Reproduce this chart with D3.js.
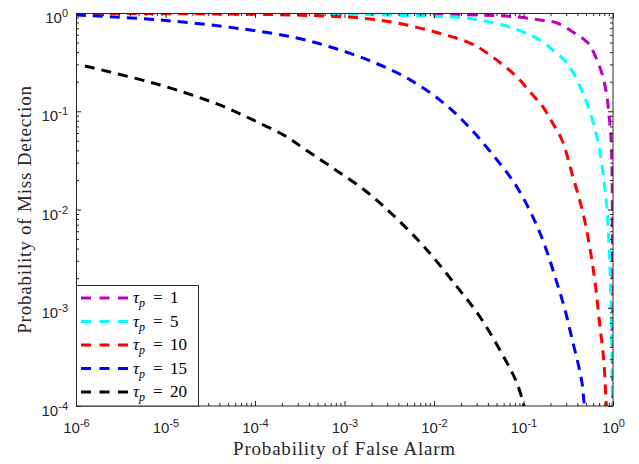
<!DOCTYPE html>
<html>
<head>
<meta charset="utf-8">
<script src="https://cdn.jsdelivr.net/npm/d3@7"></script>
<style>
  body { margin: 0; background: #fff; }
  .axis path { display: none; }
  .axis line { stroke: #262626; }
  .axis text { font-family: "Liberation Sans", Arial, sans-serif; font-size: 15px; fill: #262626; }
  .title { font-family: "Liberation Serif", "DejaVu Serif", serif; font-size: 19px; letter-spacing: 0.8px; fill: #262626; }
  .legend text { font-family: "Liberation Serif", "DejaVu Serif", serif; font-size: 17px; fill: #000; }
</style>
</head>
<body>
<svg id="chart" width="639" height="464"></svg>
<script>
// ---- data ----
const pfaTicks = [1e-6, 1e-5, 1e-4, 1e-3, 1e-2, 1e-1, 1];
const pmdTicks = [1e-4, 1e-3, 1e-2, 1e-1, 1];
const tauValues = [1, 5, 10, 15, 20];

// [Pfa, Pmd] pairs
const curveTau1 = [[1e-6, 1.0], [1e-3, 0.998], [0.0327, 0.954], [0.0845, 0.911], [0.1528, 0.849],
  [0.2366, 0.791], [0.357, 0.641], [0.526, 0.495], [0.662, 0.332], [0.773, 0.223], [0.857, 0.1396],
  [0.902, 0.0916], [0.95, 0.0547], [0.975, 0.0235], [0.987, 3.87e-3], [0.992, 9e-5]];
const curveTau5 = [[1e-6, 0.999], [3e-4, 0.99], [3.48e-3, 0.954], [8.36e-3, 0.932], [0.0234, 0.889],
  [0.059, 0.755], [0.0986, 0.641], [0.1528, 0.531], [0.225, 0.401], [0.306, 0.31], [0.486, 0.1364],
  [0.662, 0.0547], [0.773, 0.0235], [0.857, 9.9e-3], [0.925, 2.6e-3], [0.95, 1.02e-3], [0.975, 2.74e-4],
  [0.987, 9e-5]];
const curveTau10 = [[1e-6, 0.995], [2.4e-5, 0.98], [3.2e-4, 0.95], [1.49e-3, 0.889], [3.86e-3, 0.791],
  [0.01026, 0.641], [0.0252, 0.495], [0.0391, 0.392], [0.059, 0.296], [0.0845, 0.223], [0.1183, 0.157],
  [0.165, 0.1105], [0.208, 0.0777], [0.269, 0.051], [0.357, 0.0214], [0.462, 9.2e-3], [0.597, 2.6e-3],
  [0.716, 6.4e-4], [0.793, 2.74e-4], [0.835, 1.15e-4], [0.857, 9e-5]];
const curveTau15 = [[1e-6, 0.954], [8.7e-6, 0.849], [7.35e-5, 0.687], [2.94e-4, 0.557], [8.24e-4, 0.43],
  [2.08e-3, 0.317], [4.99e-3, 0.218], [0.01167, 0.13], [0.0234, 0.0724], [0.0456, 0.0359], [0.0845, 0.0169],
  [0.1528, 5.77e-3], [0.2366, 1.79e-3], [0.291, 9.5e-4], [0.357, 4.4e-4], [0.406, 2.74e-4], [0.451, 1.71e-4],
  [0.474, 1.1e-4], [0.487, 9e-5]];
const curveTau20 = [[1.26e-6, 0.289], [8.7e-6, 0.185], [3.76e-5, 0.1186], [9.5e-5, 0.0815], [2.28e-4, 0.0547],
  [3.43e-4, 0.0423], [7.43e-4, 0.0264], [1.78e-3, 0.01507], [3.48e-3, 8.79e-3], [6.62e-3, 4.89e-3],
  [9.75e-3, 3.29e-3], [0.0181, 1.63e-3], [0.0327, 8.05e-4], [0.0655, 2.74e-4], [0.0845, 1.71e-4],
  [0.0986, 1.1e-4], [0.104, 9e-5]];

const curves = [curveTau1, curveTau5, curveTau10, curveTau15, curveTau20];
const colors = ["#bf00bf", "#00ffff", "#ff0000", "#0000ff", "#000000"];

// ---- layout ----
const margin = { top: 13, right: 26, bottom: 58, left: 76 };
const width = 639 - margin.left - margin.right;
const height = 464 - margin.top - margin.bottom;

const svg = d3.select("#chart");
const g = svg.append("g").attr("transform", `translate(${margin.left},${margin.top})`);

const x = d3.scaleLog().domain([1e-6, 1]).range([0, width]);
const y = d3.scaleLog().domain([1e-4, 1]).range([height, 0]);

// minor ticks 2..9 in every decade
const minorOf = ticks => ticks.slice(0, -1).flatMap(d => d3.range(2, 10).map(k => k * d));

g.append("rect")
  .attr("width", width).attr("height", height)
  .attr("fill", "#fff");

g.append("clipPath").attr("id", "plotClip")
  .append("rect").attr("width", width).attr("height", height);

const line = d3.line()
  .x(d => x(d[0]))
  .y(d => y(d[1]))
  .curve(d3.curveCatmullRom.alpha(0.5));

g.append("g").attr("clip-path", "url(#plotClip)")
  .selectAll("path")
  .data(curves)
  .enter().append("path")
  .attr("d", line)
  .attr("fill", "none")
  .attr("stroke", (d, i) => colors[i])
  .attr("stroke-width", 3)
  .attr("stroke-dasharray", "10,7");

// tick labels as 10^n
function powLabel(d) {
  const t = d3.select(this);
  t.text(null);
  t.append("tspan").text("10");
  t.append("tspan").attr("dy", -6).attr("font-size", "11px").text(Math.round(Math.log10(d)));
}

// axes (ticks point inward on all four sides)
const xAxis = g.append("g").attr("class", "axis").attr("transform", `translate(0,${height})`)
  .call(d3.axisBottom(x).tickValues(pfaTicks).tickSize(-5).tickSizeOuter(0));
xAxis.selectAll(".tick text").attr("dy", null).attr("y", 27).each(powLabel);
g.append("g").attr("class", "axis").attr("transform", `translate(0,${height})`)
  .call(d3.axisBottom(x).tickValues(minorOf(pfaTicks)).tickSize(-3).tickFormat(""));

g.append("g").attr("class", "axis")
  .call(d3.axisTop(x).tickValues(pfaTicks).tickSize(-5).tickFormat(""));
g.append("g").attr("class", "axis")
  .call(d3.axisTop(x).tickValues(minorOf(pfaTicks)).tickSize(-3).tickFormat(""));

const yAxis = g.append("g").attr("class", "axis")
  .call(d3.axisLeft(y).tickValues(pmdTicks).tickSize(-5).tickPadding(8).tickSizeOuter(0));
yAxis.selectAll(".tick text").attr("dy", null).attr("y", 9.5).each(powLabel);
g.append("g").attr("class", "axis")
  .call(d3.axisLeft(y).tickValues(minorOf(pmdTicks)).tickSize(-3).tickFormat(""));

g.append("g").attr("class", "axis").attr("transform", `translate(${width},0)`)
  .call(d3.axisRight(y).tickValues(pmdTicks).tickSize(-5).tickFormat(""));
g.append("g").attr("class", "axis").attr("transform", `translate(${width},0)`)
  .call(d3.axisRight(y).tickValues(minorOf(pmdTicks)).tickSize(-3).tickFormat(""));

// frame
g.append("rect")
  .attr("x", 0.5).attr("y", 0.5)
  .attr("width", width - 0.5).attr("height", height - 0.5)
  .attr("fill", "none").attr("stroke", "#262626").attr("stroke-width", 1);

// axis titles
svg.append("text")
  .attr("class", "title")
  .attr("x", margin.left + width / 2).attr("y", 455)
  .attr("text-anchor", "middle")
  .text("Probability of False Alarm");

svg.append("text")
  .attr("class", "title")
  .attr("transform", `translate(31,${margin.top + height / 2}) rotate(-90)`)
  .attr("text-anchor", "middle")
  .text("Probability of Miss Detection");

// legend
const legend = g.append("g").attr("class", "legend").attr("transform", `translate(0,${height - 121})`);
legend.append("rect")
  .attr("x", 0.5).attr("y", 0.5).attr("width", 122).attr("height", 120.5)
  .attr("fill", "#fff").attr("stroke", "#262626").attr("stroke-width", 1);

const item = legend.selectAll(".item")
  .data(tauValues)
  .enter().append("g")
  .attr("class", "item")
  .attr("transform", (d, i) => `translate(0,${13 + i * 23.5})`);

item.append("line")
  .attr("x1", 5).attr("x2", 52)
  .attr("stroke", (d, i) => colors[i])
  .attr("stroke-width", 3)
  .attr("stroke-dasharray", "10,8.5");

const label = item.append("text").attr("y", 5);
label.append("tspan").attr("x", 57).style("font-style", "italic").text("τ");
label.append("tspan").style("font-style", "italic").style("font-size", "12px").attr("dy", 4).text("p");
label.append("tspan").attr("x", 77).attr("dy", -4).text("=");
label.append("tspan").attr("x", 94).text(d => d);
</script>
</body>
</html>
